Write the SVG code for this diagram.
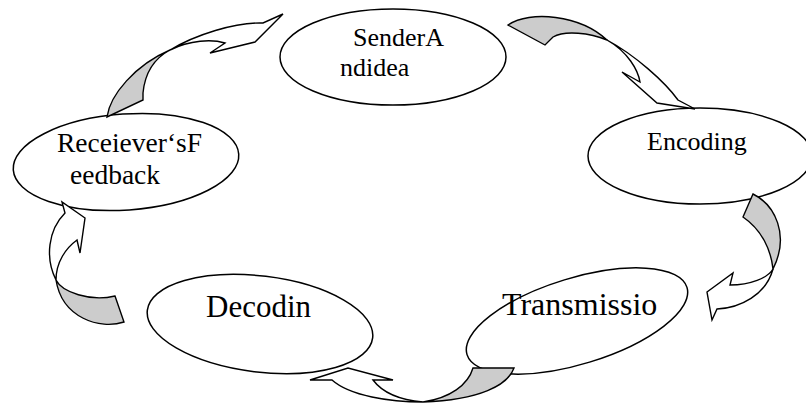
<svg xmlns="http://www.w3.org/2000/svg" width="806" height="403" viewBox="0 0 806 403">
<style>
.node{fill:#fff;stroke:#000;stroke-width:1.5}
.lbl{font-family:"Liberation Serif","Times New Roman",serif;fill:#000}
.sh{fill:#cccccc;stroke:#000;stroke-width:1.4;stroke-linejoin:miter}
.wh{fill:#fff;stroke:#000;stroke-width:1.4;stroke-linejoin:miter}
</style>
<rect width="806" height="403" fill="#fff"/>
<g id="sender">
<ellipse class="node" cx="393" cy="57" rx="113" ry="48"/>
<text class="lbl" x="353" y="46" font-size="26">SenderA</text>
<text class="lbl" x="340" y="76" font-size="26">ndidea</text>
</g>
<g id="encoding">
<ellipse class="node" cx="700" cy="156" rx="112" ry="48"/>
<text class="lbl" x="647" y="150" font-size="26">Encoding</text>
</g>
<g id="transmission">
<ellipse class="node" cx="577" cy="321" rx="115" ry="43" transform="rotate(-17 577 321)"/>
<text class="lbl" x="502" y="315" font-size="32">Transmissio</text>
</g>
<g id="decoding">
<ellipse class="node" cx="260" cy="324" rx="113.5" ry="48" transform="rotate(7 260 324)"/>
<text class="lbl" x="206" y="317" font-size="31">Decodin</text>
</g>
<g id="feedback">
<ellipse class="node" cx="126" cy="162" rx="113" ry="48" transform="rotate(-4 126 162)"/>
<text class="lbl" x="57" y="152" font-size="27.5">Receiever‘sF</text>
<text class="lbl" x="70" y="184" font-size="27.5">eedback</text>
</g>
<g id="connectors">
<!-- feedback to sender -->
<path class="sh" d="M107,117 C110,95 135,65 170,50 C155,58 145,72 143,93 L143,100 Z"/>
<path class="wh" d="M170,50 C195,35 235,22 263,23 L283,14 L255,42 L210,53 L225,43 C212,39 190,40 170,50 Z"/>
<!-- sender to encoding -->
<path class="sh" d="M508,25 C530,10 580,15 607,40 C590,33 565,30 553,37 L545,45 Z"/>
<path class="wh" d="M607,40 C635,55 665,82 678,100 L695,109 L657,103 L622,72 L640,82 C638,70 628,52 607,40 Z"/>
<!-- encoding to transmission -->
<path class="sh" d="M743,217 L753,194 C775,205 790,235 773,269 C771,250 762,230 743,217 Z"/>
<path class="wh" d="M773,269 C766,295 740,308 717,309 L712,320 L707,292 L733,273 L730,285 C750,285 768,278 773,269 Z"/>
<!-- transmission to decoding -->
<path class="sh" d="M473,368 L514,368 C508,385 480,400 423,402 C450,398 468,385 473,368 Z"/>
<path class="wh" d="M423,402 C390,402 350,396 332,380 L310,380 L348,368 L393,380 L373,380 C382,392 400,400 423,402 Z"/>
<!-- decoding to feedback -->
<path class="sh" d="M115,296 L124,322 C100,330 62,318 56,280 C62,292 90,302 115,296 Z"/>
<path class="wh" d="M56,280 C45,258 48,230 65,213 L62,202 L85,218 L80,253 L77,240 C66,248 56,262 56,280 Z"/>
</g>
</svg>
